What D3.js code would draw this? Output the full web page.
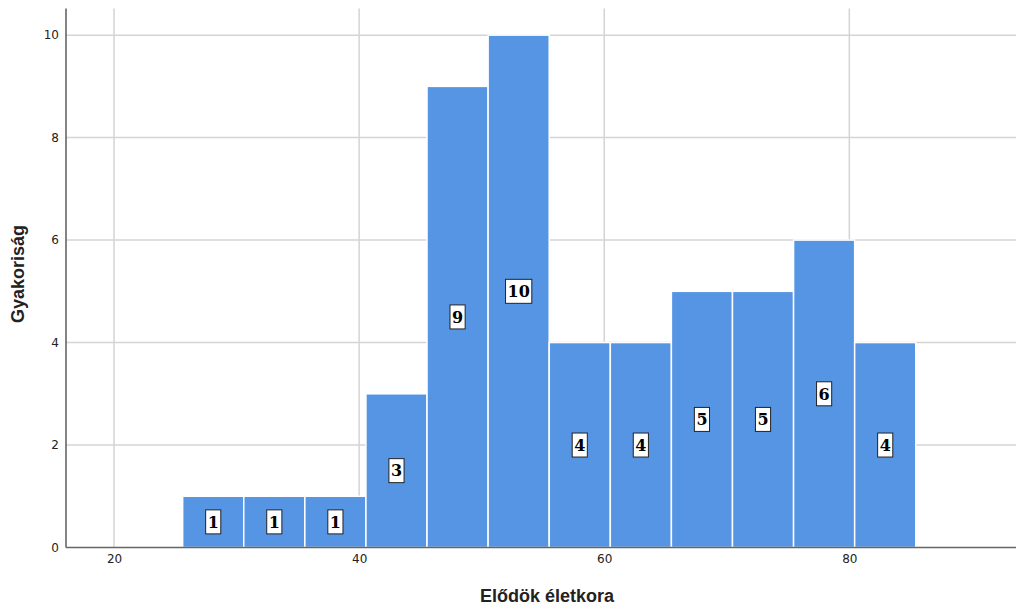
<!DOCTYPE html>
<html>
<head>
<meta charset="utf-8">
<script src="https://cdn.jsdelivr.net/npm/d3@7/dist/d3.min.js"></script>
<style>
  html, body { margin: 0; padding: 0; background: #fff; }
  svg { display: block; }
</style>
</head>
<body>
<svg id="chart" width="1016" height="608"></svg>
<script>
// Data
const binStarts = [25.6, 30.585, 35.57, 40.555, 45.54, 50.525, 55.51, 60.495, 65.48, 70.465, 75.45, 80.435];
const binWidth = 4.985;
const counts = [1, 1, 1, 3, 9, 10, 4, 4, 5, 5, 6, 4];
const xTicks = [20, 40, 60, 80];
const yTicks = [0, 2, 4, 6, 8, 10];
const xTitle = "Elődök életkora";
const yTitle = "Gyakoriság";

const svg = d3.select("#chart");
const W = 1016, H = 608;
const m = { left: 66, top: 8.5, right: 0, bottom: 60.5 };

const x = d3.scaleLinear().domain([16.08, 93.6]).range([m.left, W - m.right]);
const y = d3.scaleLinear().domain([0, 10.52]).range([H - m.bottom, m.top]);

// Grid
const g = svg.append("g");
g.selectAll("line.vg").data(xTicks).join("line")
  .attr("x1", d => x(d)).attr("x2", d => x(d))
  .attr("y1", m.top).attr("y2", y(0))
  .attr("stroke", "#d4d4d4").attr("stroke-width", 1.5);
g.selectAll("line.hg").data(yTicks.filter(d => d > 0)).join("line")
  .attr("x1", m.left).attr("x2", W)
  .attr("y1", d => y(d)).attr("y2", d => y(d))
  .attr("stroke", "#d4d4d4").attr("stroke-width", 1.5);

// Bars
const bins = counts.map((c, i) => ({ x0: binStarts[i], x1: binStarts[i] + binWidth, c }));
svg.append("g").selectAll("rect").data(bins).join("rect")
  .attr("x", d => x(d.x0))
  .attr("width", d => x(d.x1) - x(d.x0))
  .attr("y", d => y(d.c))
  .attr("height", d => y(0) - y(d.c))
  .attr("fill", "#5595e4")
  .attr("stroke", "#ffffff")
  .attr("stroke-width", 1.5);

// Axes
const xAxis = d3.axisBottom(x).tickValues(xTicks).tickSize(0).tickPadding(7);
const yAxis = d3.axisLeft(y).tickValues(yTicks).tickSize(0).tickPadding(7);
const gx = svg.append("g").attr("transform", `translate(0,${y(0)})`).call(xAxis);
const gy = svg.append("g").attr("transform", `translate(${m.left},0)`).call(yAxis);
[gx, gy].forEach(a => {
  a.select(".domain").attr("stroke", "#666").attr("stroke-width", 1.6);
  a.selectAll("text").attr("font-family", "DejaVu Sans, sans-serif").attr("font-size", 12).attr("fill", "#222");
});
gx.select(".domain").attr("d", `M${m.left},0H${W}`);
gy.select(".domain").attr("d", `M0,${m.top}V${y(0)}`);

// Labels
const lab = svg.append("g").selectAll("g").data(bins).join("g")
  .attr("transform", d => `translate(${x((d.x0 + d.x1) / 2)},${y(d.c / 2)})`);
lab.append("text")
  .attr("text-anchor", "middle").attr("dy", "0.36em")
  .attr("font-family", "DejaVu Serif, serif").attr("font-weight", "bold")
  .attr("font-size", 16).attr("fill", "#000")
  .text(d => d.c);
lab.each(function() {
  const t = d3.select(this).select("text");
  const bb = t.node().getBBox();
  d3.select(this).insert("rect", "text")
    .attr("x", bb.x - 2).attr("width", bb.width + 4)
    .attr("y", -12).attr("height", 24)
    .attr("fill", "#fff").attr("stroke", "#222").attr("stroke-width", 1);
});

// Titles
svg.append("text").attr("x", 547).attr("y", 602)
  .attr("text-anchor", "middle")
  .attr("font-family", "Liberation Sans, Arial, sans-serif").attr("font-weight", "bold")
  .attr("font-size", 18).attr("fill", "#222")
  .text(xTitle);
svg.append("text").attr("transform", "translate(24,274) rotate(-90)")
  .attr("text-anchor", "middle")
  .attr("font-family", "Liberation Sans, Arial, sans-serif").attr("font-weight", "bold")
  .attr("font-size", 18).attr("fill", "#222")
  .text(yTitle);
</script>
</body>
</html>
